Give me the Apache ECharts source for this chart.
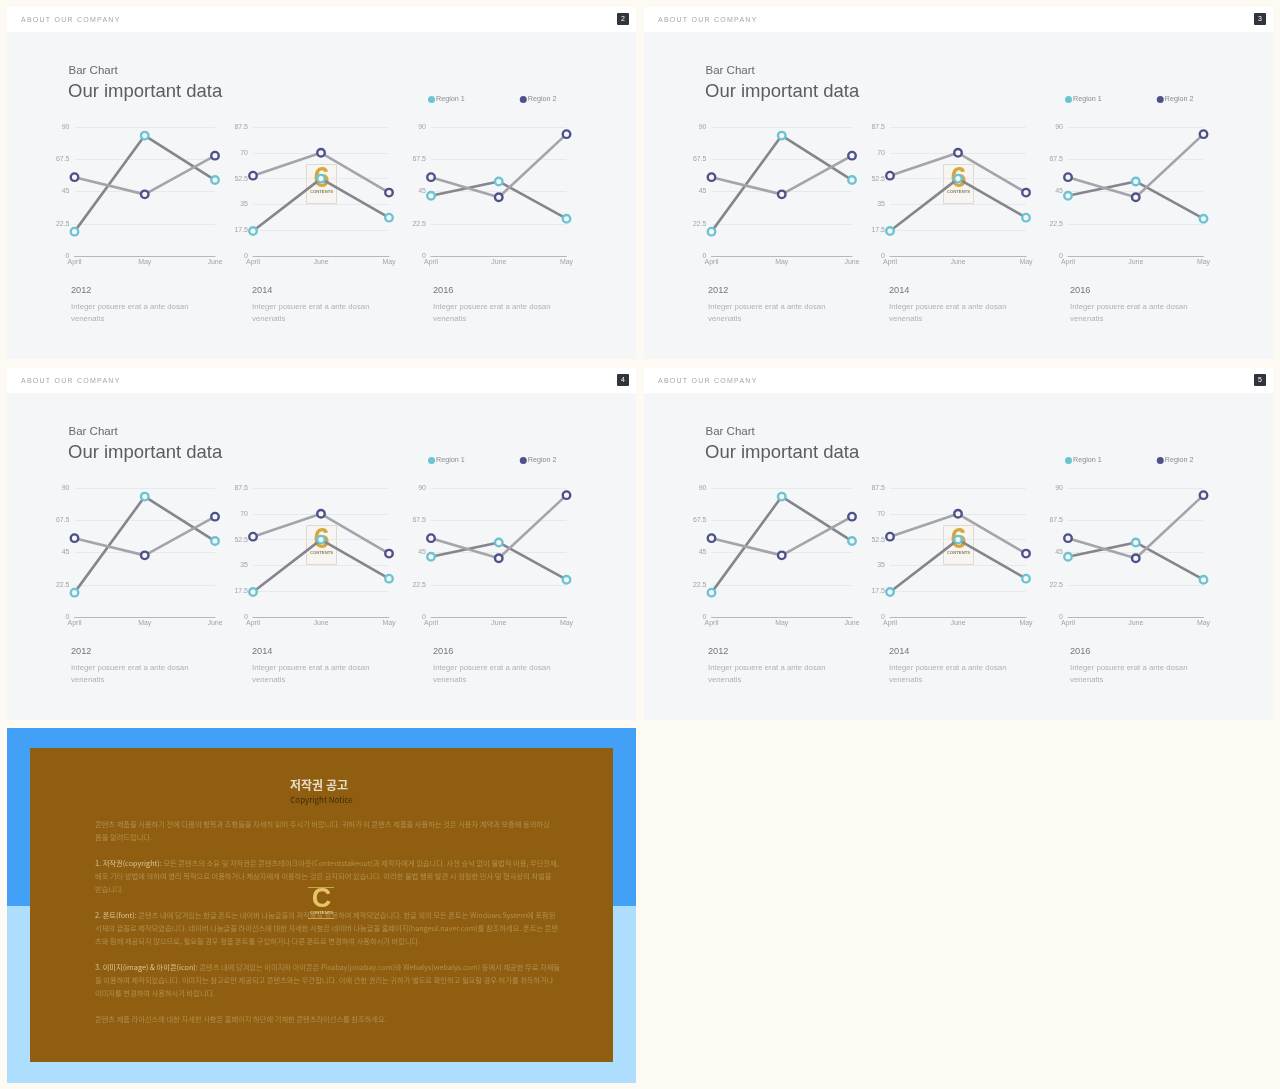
<!DOCTYPE html>
<html>
<head>
<meta charset="utf-8">
<script src="https://cdn.jsdelivr.net/npm/echarts@6/dist/echarts.min.js"></script>
<style>
  html, body { margin: 0; padding: 0; background: #fdfaf3; }
  #main { width: 1280px; height: 1089px; }
  .head { position: absolute; font: 7px "Liberation Sans", Arial, sans-serif; letter-spacing: 1.25px; color: #a6a6a6; line-height: 8px; }
</style>
</head>
<body>
<div id="main"></div>
<script>
// chart data
var years = ['2012', '2014', '2016'];
var months2012 = ['April', 'May', 'June'];
var months2014 = ['April', 'June', 'May'];
var months2016 = ['April', 'June', 'May'];
var region1_2012 = [17, 84, 53];
var region2_2012 = [55, 43, 70];
var region1_2014 = [17, 52.5, 26];
var region2_2014 = [54.5, 70, 43];
var region1_2016 = [42, 52, 26];
var region2_2016 = [55, 41, 85];
var maxes = [90, 87.5, 90];
var intervals = [22.5, 17.5, 22.5];
var pageNumbers = ['2', '3', '4', '5'];

// copyright notice, [bold head, rest of line, y]
var noticeLines = [
  ['', '콘텐츠 제품을 사용하기 전에 다음의 항목과 조항들을 자세히 읽어 주시기 바랍니다. 귀하가 이 콘텐츠 제품을 사용하는 것은 사용자 계약과 보증에 동의하심', 824],
  ['', '음을 알려드립니다.', 837],
  ['1. 저작권(copyright):', ' 모든 콘텐츠의 소유 및 저작권은 콘텐츠테이크아웃(Contentstakeout)과 제작자에게 있습니다. 사전 승낙 없이 불법적 이용, 무단전재,', 863],
  ['', '배포 기타 방법에 의하여 영리 목적으로 이용하거나 제삼자에게 이용하는 것은 금지되어 있습니다. 이러한 불법 행위 발견 시 엄정한 민사 및 형사상의 처벌을', 876],
  ['', '받습니다.', 889],
  ['2. 폰트(font):', ' 콘텐츠 내에 담겨있는 한글 폰트는 네이버 나눔글꼴의 저작물을 활용하여 제작되었습니다. 한글 외의 모든 폰트는 Windows System에 포함된', 915],
  ['', '서체의 글꼴로 제작되었습니다. 네이버 나눔글꼴 라이선스에 대한 자세한 사항은 네이버 나눔글꼴 홈페이지(hangeul.naver.com)를 참조하세요. 폰트는 콘텐', 928],
  ['', '츠와 함께 제공되지 않으므로, 필요할 경우 정품 폰트를 구입하거나 다른 폰트로 변경하여 사용하시기 바랍니다.', 941],
  ['3. 이미지(image) & 아이콘(icon):', ' 콘텐츠 내에 담겨있는 이미지와 아이콘은 Pixabay(pixabay.com)와 Webalys(webalys.com) 등에서 제공한 무료 자재들', 967],
  ['', '을 이용하여 제작되었습니다. 이미지는 참고로만 제공되고 콘텐츠와는 무관합니다. 이에 관한 권리는 귀하가 별도로 확인하고 필요할 경우 허가를 취득하거나', 980],
  ['', '이미지를 변경하여 사용하시기 바랍니다.', 993],
  ['', '콘텐츠 제품 라이선스에 대한 자세한 사항은 홈페이지 하단에 기재한 콘텐츠라이선스를 참조하세요.', 1019]
];

var months = [months2012, months2014, months2016];
var region1 = [region1_2012, region1_2014, region1_2016];
var region2 = [region2_2012, region2_2014, region2_2016];

var font = '"Liberation Sans", Arial, sans-serif';
var narrowFont = '"Liberation Sans Narrow", "Liberation Sans", sans-serif';
var krFont = '"Noto Sans CJK KR", sans-serif';
var teal = '#6cc4d2', navy = '#4d5089', panelBg = '#f4f6f8';

// left / right edge of the 3 plots on the first slide
var plotLeft = [74.5, 253, 431];
var plotRight = [215, 389, 566.5];
var textLeft = [71, 252, 433];
var slides = [[0, 0], [637, 0], [0, 361], [637, 361]];

var grid = [], xAxis = [], yAxis = [], series = [], legend = [], graphic = [];

function addText(x, y, text, size, color, extra, z) {
  var style = Object.assign({
    text: text, x: x, y: y, fontSize: size, fill: color, fontFamily: font,
    verticalAlign: 'middle'
  }, extra || {});
  graphic.push({type: 'text', z: z === undefined ? -5 : z, silent: true, style: style});
}

function addRect(x, y, w, h, fill, z, stroke, r) {
  graphic.push({
    type: 'rect', z: z, silent: true,
    shape: {x: x, y: y, width: w, height: h, r: r || 0},
    style: {fill: fill, stroke: stroke || null, lineWidth: stroke ? 1 : 0}
  });
}

slides.forEach(function (s, n) {
  var ox = s[0], oy = s[1];
  addRect(7 + ox, 7 + oy, 629, 352, panelBg, -10);
  addRect(7 + ox, 7 + oy, 629, 25, '#ffffff', -9);
  addRect(617 + ox, 13 + oy, 12, 12, '#30343b', -8, null, 1);
  addText(623 + ox, 19.5 + oy, pageNumbers[n], 7, '#ffffff', {align: 'center'});
  addText(68.5 + ox, 70.5 + oy, 'Bar Chart', 11.5, '#68686c');
  addText(68 + ox, 92 + oy, 'Our important data', 18.5, '#5c5d62');

  // watermark sits under the 2014 lines
  addRect(306.5 + ox, 164.5 + oy, 30, 39, '#f6f5f1', 0, '#e0dace');
  addText(321.5 + ox, 178.5 + oy, '6', 29, '#d6a73e', {align: 'center', fontWeight: 'bold', fontFamily: narrowFont}, 1);
  addText(321.5 + ox, 192 + oy, 'CONTENTS', 4.2, '#8f805a', {align: 'center', fontWeight: 'bold'}, 1);

  years.forEach(function (year, i) {
    var g = grid.length;
    grid.push({left: plotLeft[i] + ox, width: plotRight[i] - plotLeft[i], top: 127 + oy, height: 129});
    xAxis.push({
      type: 'category', gridIndex: g, boundaryGap: false, data: months[i],
      axisTick: {show: false},
      axisLine: {lineStyle: {color: '#b4b7bc', width: 1}},
      axisLabel: {interval: 0, fontSize: 7, color: '#a4a4a8', fontFamily: font, margin: 3}
    });
    yAxis.push({
      type: 'value', gridIndex: g, min: 0, max: maxes[i], interval: intervals[i],
      axisLine: {show: false}, axisTick: {show: false},
      axisLabel: {fontSize: 7, color: '#a4a4a8', fontFamily: font, margin: 5},
      splitLine: {lineStyle: {color: '#e8e9ec', width: 1}}
    });
    series.push({
      name: 'Region 1', type: 'line', xAxisIndex: g, yAxisIndex: g, data: region1[i],
      symbol: 'circle', symbolSize: 7.5, z: 3, animation: false,
      lineStyle: {color: '#85858e', width: 2.6},
      itemStyle: {color: panelBg, borderColor: teal, borderWidth: 2.4}
    });
    series.push({
      name: 'Region 2', type: 'line', xAxisIndex: g, yAxisIndex: g, data: region2[i],
      symbol: 'circle', symbolSize: 7.5, z: 4, animation: false,
      lineStyle: {color: '#a4a4aa', width: 2.6},
      itemStyle: {color: panelBg, borderColor: navy, borderWidth: 2.4}
    });
    addText(textLeft[i] + ox, 290 + oy, year, 9.2, '#77777b');
    addText(textLeft[i] + ox, 306.5 + oy, 'Integer posuere erat a ante dosan', 7.8, '#b0b1b5');
    addText(textLeft[i] + ox, 318.5 + oy, 'venenatis', 7.8, '#b0b1b5');
  });

  legend.push({
    left: 423 + ox, top: 91 + oy, itemWidth: 7, itemHeight: 7, itemGap: 55, icon: 'circle',
    selectedMode: false,
    textStyle: {fontSize: 7.2, color: '#8c8c90', fontFamily: font, padding: [0, 0, 0, -4]},
    data: [
      {name: 'Region 1', itemStyle: {color: teal, borderWidth: 0}},
      {name: 'Region 2', itemStyle: {color: navy, borderWidth: 0}}
    ]
  });
});

// copyright slide
addRect(7, 728, 629, 178, '#42a0f6', -10);
addRect(7, 906, 629, 177, '#aedefd', -10);
addRect(30, 748, 583, 314, '#8f5e10', -9);
addText(319, 785, '저작권 공고', 12, '#e6dcc6', {align: 'center', fontFamily: krFont, fontWeight: 'bold'});
addText(321.5, 800, 'Copyright Notice', 8, '#3c2a0c', {align: 'center', fontFamily: krFont});
noticeLines.forEach(function (l) {
  var text = (l[0] ? '{b|' + l[0] + '}' : '') + l[1];
  addText(95, l[2], text, 7.25, '#b0904f', {
    fontFamily: krFont,
    rich: {b: {fontSize: 7.25, fill: '#d8c596', fontFamily: krFont}}
  });
});
addRect(308, 887, 26, 1, '#c9a551', -4);
addRect(308, 918, 26, 1, '#c9a551', -4);
addText(321.5, 900, 'C', 27, '#e6c566', {align: 'center', fontWeight: 'bold', fontFamily: narrowFont});
addText(321.5, 913, 'CONTENTS', 4.2, '#e6c97f', {align: 'center', fontWeight: 'bold'});

var myChart = echarts.init(document.getElementById('main'));
myChart.setOption({
  animation: false,
  backgroundColor: '#fdfaf3',
  tooltip: {},
  grid: grid,
  xAxis: xAxis,
  yAxis: yAxis,
  legend: legend,
  series: series,
  graphic: {elements: graphic}
});

// spaced header labels
slides.forEach(function (s) {
  var d = document.createElement('div');
  d.className = 'head';
  d.textContent = 'ABOUT OUR COMPANY';
  d.style.left = (21 + s[0]) + 'px';
  d.style.top = (15.5 + s[1]) + 'px';
  document.body.appendChild(d);
});
</script>
</body>
</html>
